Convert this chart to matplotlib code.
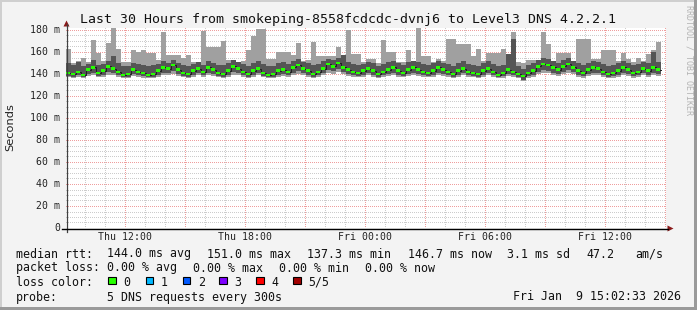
"""
SmokePing style latency chart: last 30 hours to Level3 DNS 4.2.2.1.
Smoke = spread of the 5 DNS probes per step, green dashes = median (0 % loss).
"""
import matplotlib

matplotlib.use("Agg")
import matplotlib.pyplot as plt
import numpy as np
from matplotlib.lines import Line2D
from matplotlib.patches import Polygon, Rectangle

W, H = 697, 310

# time axis: hours counted from Thu 00:00, one column every 15 minutes
START_HOUR = 9 + 2 / 60 + 33 / 3600
STEP_HOURS = 0.25
TICK_LABELS = ["Thu 12:00", "Thu 18:00", "Fri 00:00", "Fri 06:00", "Fri 12:00"]
TICK_HOURS = [12, 18, 24, 30, 36]
Y_TICKS = [0, 20, 40, 60, 80, 100, 120, 140, 160, 180]
Y_TICK_LABELS = ["0", "20 m", "40 m", "60 m", "80 m", "100 m", "120 m", "140 m", "160 m", "180 m"]

# sorted probe values per column (ms)
ping_min = [
    137, 136, 137, 136, 138, 139, 137, 137, 139, 139,
    137, 136, 136, 138, 137, 136, 136, 136, 137, 139,
    139, 140, 138, 137, 136, 137, 139, 137, 139, 138,
    137, 136, 137, 139, 139, 137, 136, 137, 139, 137,
    136, 136, 137, 138, 137, 139, 140, 139, 137, 136,
    137, 139, 141, 140, 142, 140, 138, 137, 137, 137,
    139, 137, 136, 137, 138, 139, 137, 137, 138, 139,
    138, 137, 137, 137, 139, 138, 137, 136, 137, 139,
    137, 137, 136, 137, 139, 137, 136, 136, 138, 137,
    136, 134, 136, 137, 140, 141, 141, 139, 138, 140,
    141, 140, 137, 136, 138, 139, 139, 137, 136, 136,
    137, 139, 138, 136, 137, 139, 137, 139, 138,
]
ping_low = [
    138, 137, 139, 137, 140, 141, 138, 139, 142, 141,
    139, 137, 137, 140, 139, 138, 137, 137, 139, 141,
    141, 143, 140, 138, 137, 139, 141, 139, 141, 140,
    138, 137, 139, 142, 141, 139, 137, 139, 141, 138,
    137, 137, 139, 140, 139, 141, 143, 141, 139, 137,
    139, 141, 144, 143, 145, 142, 140, 139, 138, 139,
    141, 139, 137, 139, 140, 141, 139, 138, 140, 141,
    140, 139, 138, 139, 141, 140, 139, 137, 139, 141,
    139, 138, 137, 139, 141, 139, 137, 138, 140, 139,
    137, 135, 138, 139, 142, 144, 143, 141, 140, 142,
    144, 142, 139, 138, 140, 141, 141, 139, 137, 138,
    139, 141, 140, 138, 139, 141, 139, 141, 140,
]
median_rtt = [
    141, 140, 142, 139, 144, 146, 141, 143, 147, 145,
    142, 139, 140, 144, 142, 141, 139, 140, 143, 146,
    145, 148, 144, 141, 140, 143, 145, 142, 146, 144,
    141, 140, 143, 147, 145, 142, 140, 143, 145, 141,
    139, 140, 143, 144, 142, 146, 148, 145, 143, 140,
    142, 145, 149, 147, 150, 146, 144, 142, 141, 143,
    145, 143, 140, 142, 144, 146, 143, 141, 144, 146,
    144, 142, 141, 143, 146, 144, 142, 140, 143, 145,
    142, 141, 140, 143, 145, 142, 139, 141, 144, 142,
    140, 138, 141, 143, 147, 149, 148, 146, 144, 147,
    149, 146, 143, 141, 144, 146, 145, 142, 140, 141,
    143, 146, 144, 141, 142, 145, 143, 146, 144,
]
ping_high = [
    150, 148, 151, 147, 149, 153, 148, 149, 152, 156,
    150, 147, 147, 150, 149, 148, 147, 148, 149, 152,
    150, 153, 150, 148, 147, 149, 151, 148, 152, 150,
    148, 148, 150, 153, 151, 149, 147, 150, 152, 149,
    147, 147, 150, 151, 149, 152, 154, 151, 150, 148,
    149, 152, 154, 153, 155, 157, 151, 149, 148, 149,
    151, 150, 147, 149, 151, 152, 150, 148, 151, 152,
    151, 149, 148, 150, 152, 150, 149, 147, 150, 152,
    149, 148, 147, 150, 152, 149, 147, 148, 158, 172,
    147, 145, 148, 150, 153, 155, 154, 152, 150, 153,
    155, 152, 150, 148, 150, 152, 151, 149, 147, 148,
    150, 152, 150, 148, 149, 151, 150, 160, 151,
]
ping_max = [
    163, 150, 152, 155, 151, 171, 159, 152, 168, 182,
    163, 151, 151, 162, 160, 162, 159, 159, 153, 178,
    157, 157, 157, 155, 157, 151, 151, 179, 165, 165,
    165, 170, 153, 153, 150, 152, 162, 175, 181, 181,
    154, 154, 160, 160, 160, 157, 168, 152, 153, 169,
    156, 156, 156, 156, 165, 152, 180, 158, 158, 151,
    154, 154, 150, 171, 160, 160, 151, 151, 162, 152,
    182, 156, 156, 151, 154, 152, 172, 172, 167, 167,
    167, 156, 163, 152, 159, 159, 159, 163, 153, 178,
    151, 150, 153, 153, 153, 178, 167, 152, 159, 159,
    159, 152, 172, 172, 172, 154, 154, 162, 162, 162,
    152, 159, 154, 151, 155, 152, 158, 162, 169,
]

LOSS_LABELS = ["0", "1", "2", "3", "4", "5/5"]
LOSS_COLORS = ["#26ff00", "#00b8ff", "#0059ff", "#7e00ff", "#ff0000", "#a10000"]


def fx(x):
    return x / W


def fy(y):
    return 1 - y / H


plt.rcParams["font.family"] = "DejaVu Sans Mono"
fig = plt.figure(figsize=(W / 100, H / 100), dpi=100, facecolor="#f3f3f3")

# frame shading like rrdtool (light top/left, dark bottom/right)
fig.add_artist(Rectangle((0, fy(2)), 1, 2 / H, transform=fig.transFigure, color="#cfcfcf", lw=0))
fig.add_artist(Rectangle((0, 0), 2 / W, 1, transform=fig.transFigure, color="#cfcfcf", lw=0))
fig.add_artist(Rectangle((fx(694), 0), 3 / W, 1, transform=fig.transFigure, color="#9a9a9a", lw=0))
fig.add_artist(Rectangle((0, 0), 1, 3 / H, transform=fig.transFigure, color="#9a9a9a", lw=0))

# canvas 600x200 px with pixel exact dotted grid (grey 1 h / 5 ms, red 3 h / 20 ms)
end_hour = START_HOUR + 30
canvas = np.ones((200, 600, 3))
grey = np.array([0.80, 0.80, 0.80])
red = np.array([0.94, 0.62, 0.62])
for v in range(5, 185, 5):
    row = int(round(200 - v * 1.1))
    canvas[row, ::2] = red if v % 20 == 0 else grey
for h in range(int(np.ceil(START_HOUR)), int(end_hour) + 1):
    col = min(int(round((h - START_HOUR) * 20)), 599)
    canvas[::2, col] = red if h % 3 == 0 else grey
fig.figimage(canvas, xo=66, yo=H - 228, origin="upper", zorder=0)

ax = fig.add_axes([fx(66), fy(228), 600 / W, 200 / H])
ax.set_zorder(1)
ax.patch.set_visible(False)
ax.set_xlim(START_HOUR, end_hour)
ax.set_ylim(0, 200 / 1.1)
for s in ax.spines.values():
    s.set_visible(False)
ax.set_xticks([])
ax.set_yticks([])

# smoke and median
times = START_HOUR + STEP_HOURS * np.arange(len(median_rtt))
edges = np.append(times, times[-1] + STEP_HOURS)


def stepped(vals):
    vals = np.asarray(vals, dtype=float)
    return np.append(vals, vals[-1])


ax.fill_between(edges, stepped(ping_min), stepped(ping_max), step="post",
                color="#a0a0a0", lw=0, zorder=2)
ax.fill_between(edges, stepped(ping_low), stepped(ping_high), step="post",
                color="#555555", lw=0, zorder=3)
ax.step(edges, stepped(median_rtt), where="post", color="#202020", lw=0.7, zorder=4)
med = np.asarray(median_rtt, dtype=float)
ax.bar(times, 2.2, bottom=med - 1.1, width=STEP_HOURS * 0.8, align="edge",
       color=LOSS_COLORS[0], lw=0, zorder=5)

# axes lines with arrows
fig.add_artist(Line2D([fx(66.5), fx(66.5)], [fy(232), fy(24)], color="#404040", lw=0.9))
fig.add_artist(Line2D([fx(62), fx(668)], [fy(228.5), fy(228.5)], color="black", lw=1.0))
fig.add_artist(Polygon([[fx(63.5), fy(26.5)], [fx(69.5), fy(26.5)], [fx(66.5), fy(20.5)]],
                       closed=True, transform=fig.transFigure, color="#8b1a1a", lw=0))
fig.add_artist(Polygon([[fx(667.5), fy(225.5)], [fx(667.5), fy(231.5)], [fx(673.5), fy(228.5)]],
                       closed=True, transform=fig.transFigure, color="#8b1a1a", lw=0))

# tick labels
for label, hour in zip(TICK_LABELS, TICK_HOURS):
    xp = 66 + (hour - START_HOUR) * 20
    fig.text(fx(xp), fy(237.5), label, ha="center", va="center", fontsize=7.1, color="#222222")
for label, val in zip(Y_TICK_LABELS, Y_TICKS):
    yp = 228 - val * 1.1
    fig.text(fx(60), fy(yp), label, ha="right", va="center", fontsize=7.1, color="#222222")

fig.text(fx(347.5), fy(19), "Last 30 Hours from smokeping-8558fcdcdc-dvnj6 to Level3 DNS 4.2.2.1",
         ha="center", va="center", fontsize=9.55, color="#111111")
fig.text(fx(10), fy(127.5), "Seconds", rotation=90, ha="center", va="center",
         fontsize=8.2, family="DejaVu Sans", color="#222222")
fig.text(fx(689), fy(60), "RRDTOOL / TOBI OETIKER", rotation=-90, ha="center", va="center",
         fontsize=6.0, color="#b4b4b4")

# legend block
LEG = dict(ha="left", va="center", fontsize=8.4, color="#111111")
rows = [
    (254, [(16, "median rtt:"), (107.3, "144.0 ms avg"), (207.3, "151.0 ms max"),
           (307.3, "137.3 ms min"), (407.7, "146.7 ms now"), (506.7, "3.1 ms sd"),
           (586, "47.2"), (635, "am/s")]),
    (268, [(16, "packet loss:"), (107.3, "0.00 % avg"), (193.3, "0.00 % max"),
           (279.3, "0.00 % min"), (365, "0.00 % now")]),
    (282, [(16, "loss color:")]),
    (297, [(16, "probe:"), (107.3, "5 DNS requests every 300s")]),
]
for yp, items in rows:
    for xp, txt in items:
        fig.text(fx(xp), fy(yp), txt, **LEG)

box_x = [108.3, 145.7, 182.7, 219.3, 256, 293.3]
for bx, lab, col in zip(box_x, LOSS_LABELS, LOSS_COLORS):
    fig.add_artist(Rectangle((fx(bx), fy(284.3)), 7.7 / W, 7.6 / H, transform=fig.transFigure,
                             facecolor=col, edgecolor="black", lw=0.8))
    fig.text(fx(bx + 15), fy(282), lab, **LEG)

fig.text(fx(681), fy(297), "Fri Jan  9 15:02:33 2026", ha="right", va="center",
         fontsize=8.4, color="#111111")

fig.savefig("out.png", dpi=100, facecolor=fig.get_facecolor())
